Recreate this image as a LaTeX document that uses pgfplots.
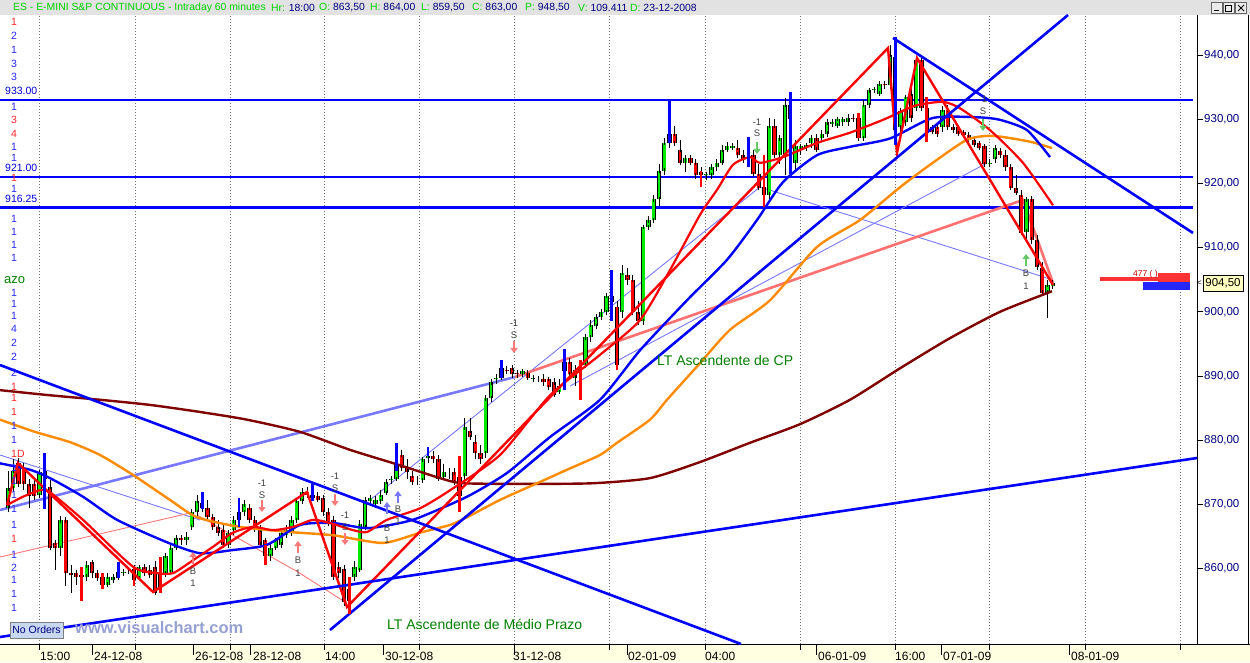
\documentclass[border=0pt]{standalone}
\usepackage{pgfplots}
\pgfplotsset{compat=1.18}
\usepackage{pgfplotstable}
\usepackage{fontspec}
\setmainfont{Liberation Sans}
\usetikzlibrary{arrows.meta}

\definecolor{vcblue}{RGB}{0,0,255}
\definecolor{vcred}{RGB}{255,0,0}
\definecolor{vcgreen}{RGB}{0,235,0}
\definecolor{brownma}{RGB}{128,0,0}
\definecolor{orangema}{RGB}{255,140,0}
\definecolor{lav}{RGB}{120,120,255}
\definecolor{salmon}{RGB}{255,112,112}
\definecolor{thinpink}{RGB}{255,120,120}
\definecolor{navy}{RGB}{0,0,128}
\definecolor{txtgreen}{RGB}{0,128,0}
\definecolor{hdrgreen}{RGB}{0,210,0}
\definecolor{strip}{RGB}{255,255,225}
\definecolor{hdrgray}{RGB}{226,226,226}
\definecolor{lblue}{RGB}{40,40,255}
\definecolor{lred}{RGB}{255,40,40}
\definecolor{arrpink}{RGB}{255,120,120}
\definecolor{arrblue}{RGB}{120,120,255}
\definecolor{arrgreen}{RGB}{100,200,100}

\pgfplotsset{nomark/.style={only marks, mark=text, text mark={}, forget plot}}

% 60-minute bars: x = position, open high low close
\pgfplotstableread{
x o h l c
8 869.5 875.25 868.75 872.5
13.25 872.5 877 872 875.25
39.5 871.5 875.25 871 875
44.75 874 876 873.5 875.25
60.5 863.25 868.25 862 867.5
86.75 858.75 861.25 858 860.5
107.75 857.5 859.25 857.25 858.75
113 858.25 859 857.75 858.75
118.25 858.5 859.75 858.25 859.5
123.5 859.25 860 859 859.5
128.75 859.5 859.75 859.25 859.5
139.25 858.5 860.5 858.25 860.25
160.25 857 861.75 856.25 859.25
165.5 859.25 862.5 858.75 862
170.75 859.5 863.75 859.25 863.25
176 863.25 865.25 863 864.75
186.5 864.5 865.75 863.75 865
191.75 866.5 869.25 866 868.75
197 868.75 871.5 868.25 870.5
228.5 863.75 866 863.25 865.5
233.75 866 868.25 865.25 867.5
239 867.5 871 866.75 868.75
244.25 868.75 870.75 868.25 870
270.5 862 864 861.25 863.25
275.75 863.25 864.75 863 864.5
281 863.75 866 863.25 865.5
286.25 865.25 866.75 864.75 866
291.5 865.5 868.25 865.25 867.5
296.75 867.5 871 867.25 870.5
302 870.5 872.5 870 872
349.25 855 858.75 853 856.75
354.5 858.75 861.25 858 860.25
359.75 859.75 867.5 859.5 867
365 866.5 871 866 870.75
370.25 870.5 871.5 869.75 871
375.5 870 871.25 869.5 870.75
380.75 870.5 872.25 870 871.5
386 871.75 874 871.5 873.5
391.25 873.75 874.5 873.25 874
396.5 874 877 873.75 876.25
417.5 873.75 874.5 873 873.75
422.75 873.75 877.25 873.5 877
428 877.25 879 876.5 877.5
443.75 874.25 876.25 873.75 875
449 875 875.75 874 875
464.75 874.5 883.5 873.75 882
485.75 878 887 877.25 886.5
491 886.5 889.5 886 889
496.25 889.5 890.25 888.75 889.75
501.5 889.75 891.75 889.5 891.25
522.5 890.25 891 890 890.75
533 889.5 890 889 889.75
538.25 889.5 890 889 889.5
559.25 887.5 889.5 887.25 888.5
564.5 890.75 892.75 887.75 892.25
575 889.75 891.75 888.5 891
580.25 890.75 892.5 886.25 891.25
585.5 891.75 896.5 891.25 896
590.75 896 898.75 895.25 898
596 897.75 899.5 897.25 899.25
601.25 899.25 900.5 898.75 900
606.5 900 903 899.5 902.5
611.75 901.5 903 901 902.5
622.25 900 907.25 899 906
643.25 898.5 913.5 898 913.25
648.5 913.25 915 912.75 914.25
653.75 914.25 918.25 914 917.5
659 917.5 923 916.5 922
664.25 922 927 921.25 926.25
669.5 926.25 928.75 925.5 927.75
685.25 923.25 924.5 921.75 924
706.25 921.25 921.75 920.5 921.5
711.5 921.25 923 920.75 922.5
716.75 922.5 923.75 922 923.25
722 923.25 926 923 925.25
727.25 925.25 926.5 925 925.75
732.5 925.5 926.25 925.25 925.75
748.25 923.75 925 922.5 924
769.25 918.25 930.25 917.5 929
779.75 924.5 927.5 923 927
785 924.5 933.25 921.25 932.25
795.5 923.25 926.75 921.75 925.75
800.75 925.25 926 924.5 925.75
806 925.5 926.25 925 926
811.25 926.25 927.5 925.5 927
821.75 927 928.25 926.75 927.75
827 927.75 930 927.25 929.5
832.25 929.25 930 928.75 929.5
837.5 929 930.25 928.75 930
842.75 929.5 930.25 929 930
848 929.5 930.75 929 930.25
863.75 927 933 926.75 932.25
869 932.25 934.75 931.75 934.5
874.25 934.5 935 934.25 934.75
879.5 934 936 933.75 935.5
890 935.25 941.5 934.75 940
900.5 928.75 931.75 927.5 931.25
905.75 929.5 933.75 929 933.5
916.25 931.75 939.75 931.25 939.25
942.5 928.75 932 928 931.5
989.75 923 923.75 922.5 923.25
995 923.75 926 923.25 925.5
1026.5 912.5 917.75 911.25 917.5
1047.5 903 905 899 904.25
1052.75 904 905 903.5 904.5
}\up

\pgfplotstableread{
x o h l c
18.5 876.5 877.25 872.75 873.25
23.75 875.75 876.5 872.25 873.25
29 873.25 874 869.5 871.25
34.25 873.25 873.75 870.75 871.25
50 872.75 873.75 863 863.25
55.25 864 864.5 859.75 863.25
65.75 867.5 868 857.25 859.25
71 859.25 860.5 856.25 859
76.25 859.25 859.75 857.5 858.75
81.5 859 860 858 858.75
92 861 861.25 858.5 859.25
97.25 859.25 859.75 858 858.5
102.5 858.75 859.25 856.75 857.5
134 860 860.5 857.25 858.25
144.5 860.25 860.75 859 859.25
149.75 859.75 860.5 858.5 859
155 860.25 861.25 856 856.25
181.25 864.75 865.25 863.75 864.5
202.25 870.25 872 868.75 869.5
207.5 869.5 870.75 867.5 868
212.75 868 868.5 866 866.5
218 866.5 867.5 865.25 865.5
223.25 866 866.75 863.25 863.75
249.5 869.5 870 867.25 867.5
254.75 867.5 868.25 865.75 866
260 866 866.75 863.25 863.75
265.25 864.5 864.75 861.75 862
307.25 872 872.75 871 871.5
312.5 871.5 873.25 870.5 871
317.75 871.25 872 870.5 870.75
323 871 871.5 868.25 868.75
328.25 868.75 869.5 866.75 867
333.5 867.5 868.25 858.25 858.75
338.75 860.25 861 858.5 859.25
344 860 860.5 854.25 854.75
401.75 877.75 878.5 875.25 875.75
407 875.75 877 874 875
412.25 874.5 875.25 873 873.5
433.25 877.5 878.25 876.5 877
438.5 877 877.75 873.75 874
454.25 875 875.75 873 873.5
459.5 874.25 875.25 870.75 871.25
470 881.5 883.5 880 880.5
475.25 879.75 880.75 877 878
480.5 878 879.25 876.25 877
506.75 891 891.5 890.25 890.75
512 891.25 891.75 889.75 890.25
517.25 890.5 891 889.75 890.25
527.75 890.5 891 889.5 889.75
543.5 889.5 890.25 888.5 889
548.75 889.5 889.75 887.75 888.25
554 889 889.75 886.75 887
569.75 892.25 892.75 889.75 890.25
617 900.75 901.75 891.25 891.75
627.5 905.75 906.75 904.25 905
632.75 905 905.75 899.5 900
638 900 901.75 898 898.5
674.75 927.75 929 925.75 926.25
680 925.25 926.75 923 923.25
690.5 924 924.5 923 923.25
695.75 923.25 923.75 920.75 921.25
701 921.75 922.5 920.5 921.25
737.75 925.5 926.75 924 924.5
743 924.5 925.25 923.25 923.75
753.5 924.5 925.25 921.25 921.5
758.75 921.5 923 919 919.25
764 919.5 920.5 916.5 918.25
774.5 929 930 924 924.5
790.25 932.25 933 929.5 930
816.5 927 927.75 925 925.25
853.25 930.25 930.75 929.5 930
858.5 930.25 931 926.75 927
884.75 935.5 936 934.75 935.25
895.25 939.75 942.75 926.75 928.25
911 934 934.75 929.5 930.25
921.5 939.25 939.75 931.25 931.75
926.75 931.75 933 927.5 928
932 928.75 929 927.75 928
937.25 928.75 929.25 927.25 927.75
947.75 931.5 932.25 928.25 928.75
953 928.75 929.25 928 928.25
958.25 928.75 929 927.5 927.75
963.5 928 928.25 927 927.5
968.75 927.5 928 926.5 926.75
974 926.75 927 925.75 926
979.25 926.25 926.5 925.25 925.5
984.5 925.75 926 922.5 923
1000.25 925 925.5 924 924.5
1005.5 924.5 925.25 922 922.5
1010.75 922.5 923 919 919.25
1016 919.25 921.25 918.25 918.5
1021.25 918.25 919 912 912.25
1031.75 917.5 918 910.5 911.25
1037 911.25 912 906.5 907
1042.25 906.75 907.75 902.5 903
}\dn

% signal bars
\pgfplotstableread{
x lo hi
44.75 869.25 878
118.25 858.5 861
202.25 869.25 872
239 866.5 871
312.5 870.5 873.25
396.5 875.25 879.5
428 877.5 879
501.5 889.75 892.5
564.5 887.75 894.25
611.75 898.5 906.5
669.5 926.25 933
748.25 922.5 927.25
790.25 921.5 934.25
895.25 926 942.75
}\sigb
\pgfplotstableread{
x lo hi
81.5 855 860.25
102.5 856.75 859.25
134 857.25 860.25
160.25 856.25 861.75
265.25 860.5 863.75
349.25 853 858.75
459.5 868.75 877.5
580.25 886.25 892.5
617 891 900.75
701 919.5 922
764 916.25 924.5
858.5 927 931
926.75 926.5 933.5
}\sigr

\begin{document}
\begin{tikzpicture}[font=\fontsize{10}{12}\selectfont]
\begin{scope}[x=1pt,y=-1pt,yshift=644pt]
  \fill[white] (0,0) rectangle (1250,662);
  \fill[hdrgray] (0,0) rectangle (1250,15);
  \fill[strip] (0,644) rectangle (1250,662);
\end{scope}

\begin{axis}[
  at={(0,0)}, anchor=south west,
  scale only axis, width=1197pt, height=629pt,
  xmin=0, xmax=1197, ymin=848.26, ymax=946.23,
  axis x line*=bottom, axis y line*=right,
  axis line style={black, line width=0.8pt},
  tick align=outside, major tick length=6pt,
  tick style={black, line width=0.8pt},
  xtick={39,135,230,324,419,514,609,705,800,895,989,1085,1180},
  xticklabels={},
  xmajorgrids,
  grid style={black!55, line width=0.6pt, dash pattern=on 0.8pt off 2.2pt},
  extra x ticks={92,193,250,383,514,627,816,941,1069},
  extra x tick labels={},
  extra x tick style={grid=none, major tick length=11pt},
  ytick={860,870,...,940}, yticklabels={},
]
% horizontal levels
\addplot[vcblue, line width=2.6pt] coordinates {(0,933)(1193,933)};
\addplot[vcblue, line width=1.2pt] coordinates {(0,921)(1193,921)};
\addplot[vcblue, line width=2.6pt] coordinates {(0,916.25)(1193,916.25)};
% thin lines
\addplot[lav, line width=0.9pt] coordinates {(0,877.7)(200,867.57)};
\addplot[lav, line width=0.9pt] coordinates {(370,870.69)(760,919.44)(1053,904.96)};
\addplot[lav, line width=0.9pt] coordinates {(570,888.44)(987,923.18)};
\addplot[thinpink, line width=0.9pt] coordinates {(0,861.81)(190,868.66)};
\addplot[thinpink, line width=0.9pt] coordinates {(197,868.35)(298,859.47)(345,854.8)};
% thick pastel lines
\addplot[lav, line width=2.6pt] coordinates {(0,869.13)(515,889.85)};
\addplot[salmon, line width=2.6pt] coordinates {(515,889.85)(1023,917.42)(1053,904.49)};

% candles: wicks
\addplot[nomark, error bars/.cd, y dir=plus, y explicit,
  error mark=none, error bar style={black, line width=0.9pt}]
  table[x=x, y=l, y error plus expr=\thisrow{h}-\thisrow{l}] {\up};
\addplot[nomark, error bars/.cd, y dir=plus, y explicit,
  error mark=none, error bar style={black, line width=0.9pt}]
  table[x=x, y=l, y error plus expr=\thisrow{h}-\thisrow{l}] {\dn};
% bodies
\addplot[nomark, error bars/.cd, y dir=plus, y explicit,
  error mark=none, error bar style={black, line width=4.4pt}]
  table[x=x, y=o, y error plus expr=\thisrow{c}-\thisrow{o}] {\up};
\addplot[nomark, error bars/.cd, y dir=both, y explicit,
  error mark=-, error mark options={black, line width=0.8pt, mark size=2.2pt},
  error bar style={vcgreen, line width=2.6pt}]
  table[x=x, y=o, y error plus expr=\thisrow{c}-\thisrow{o}, y error minus expr=0] {\up};
\addplot[nomark, error bars/.cd, y dir=plus, y explicit,
  error mark=none, error bar style={black, line width=4.4pt}]
  table[x=x, y=c, y error plus expr=\thisrow{o}-\thisrow{c}] {\dn};
\addplot[nomark, error bars/.cd, y dir=both, y explicit,
  error mark=-, error mark options={black, line width=0.8pt, mark size=2.2pt},
  error bar style={vcred, line width=2.6pt}]
  table[x=x, y=c, y error plus expr=\thisrow{o}-\thisrow{c}, y error minus expr=0] {\dn};

% moving averages
\addplot[brownma, line width=2.4pt, smooth, tension=0.4] coordinates {
(0,887.8)(50,887.0)(100,886.3)(150,885.5)(200,884.4)(247,883.2)(300,881.3)(350,878.5)
(400,876.1)(440,874.1)(463,873.3)(530,873.2)(593,873.3)(650,874.1)(700,876.6)(750,879.6)
(800,882.5)(850,886.3)(900,891.2)(950,895.9)(1000,900.0)(1052,903.2)};
\addplot[orangema, line width=2.4pt, smooth, tension=0.4] coordinates {
(0,883.2)(35,881.3)(70,879.7)(100,877.7)(133,874.6)(170,870.7)(197,868.0)(240,866.5)
(290,865.7)(333,865.2)(383,864.0)(420,865.6)(450,866.8)(467,868.0)(500,870.7)(540,873.5)
(567,875.4)(600,877.7)(617,879.6)(650,883.2)(667,886.3)(700,892.0)(730,897.2)(770,901.8)
(817,910.1)(860,914.3)(900,919.4)(930,922.9)(967,926.8)(993,927.4)(1030,926.5)(1052,925.5)};
\addplot[vcblue, line width=2.4pt, smooth, tension=0.4] coordinates {
(0,876.4)(30,875.4)(50,874.1)(83,871.2)(117,867.6)(167,864.1)(200,862.4)(233,862.9)
(267,863.7)(300,866.8)(333,867.1)(367,866.3)(400,867.1)(420,868.0)(467,871.2)(507,874.9)
(550,880.5)(600,886.3)(640,894.0)(687,901.8)(727,908.1)(757,914.3)(783,920.2)(817,924.4)
(850,925.7)(890,927.0)(933,930.2)(977,930.3)(1000,929.9)(1027,928.3)(1050,924.1)};
\addplot[vcred, line width=2.2pt, smooth, tension=0.4] coordinates {
(7,869.9)(23,871.2)(40,872.2)(50,871.9)(83,867.6)(133,860.3)(157,859.3)(173,859.3)
(193,861.3)(213,863.4)(233,865.6)(253,866.5)(273,866.0)(293,866.5)(313,867.6)(330,867.1)
(353,866.0)(367,865.7)(387,867.6)(420,869.4)(450,872.2)(500,877.7)(550,887.0)(600,893.3)
(640,898.7)(670,906.5)(700,915.1)(717,919.0)(733,922.9)(750,924.1)(760,923.2)(783,924.1)
(817,926.3)(850,927.9)(883,929.9)(900,931.1)(917,932.2)(943,932.7)(960,931.7)(990,928.3)
(1023,923.2)(1053,916.6)};
% zigzag
\addplot[vcred, line width=2.4pt] coordinates {
(7,869.91)(18,876.45)(153,856.36)(307,871.93)(347,854.02)(888,941.09)(897,924.74)(917,939.53)(1053,904.18)};

% trend lines
\addplot[vcblue, line width=2.6pt] coordinates {(0,891.71)(741,848.26)};
\addplot[vcblue, line width=2.6pt] coordinates {(0,849.35)(1197,877.23)};
\addplot[vcblue, line width=2.6pt] coordinates {(330,850.44)(1068,946.23)};
\addplot[vcblue, line width=2.6pt] coordinates {(893,942.65)(1193,912.28)};

% signal bars
\addplot[nomark, error bars/.cd, y dir=plus, y explicit,
  error mark=none, error bar style={vcblue, line width=2.6pt}]
  table[x=x, y=lo, y error plus expr=\thisrow{hi}-\thisrow{lo}] {\sigb};
\addplot[nomark, error bars/.cd, y dir=plus, y explicit,
  error mark=none, error bar style={vcred, line width=2.6pt}]
  table[x=x, y=lo, y error plus expr=\thisrow{hi}-\thisrow{lo}] {\sigr};
\end{axis}

\begin{scope}[x=1pt,y=-1pt,yshift=644pt]
  % frame pieces
  \draw[black, line width=0.8pt] (1197,644) -- (1250,644);
  \draw[black, line width=0.8pt] (1248,15) -- (1248,644);
  % header
  \node[anchor=west, inner sep=0pt, font=\fontsize{10.4}{12}\selectfont, text=hdrgreen] at (13,7.5) {ES - E-MINI S\&P CONTINUOUS - Intraday 60 minutes};
  \foreach \xx/\la/\va in {271/Hr:/18:00, 319/O:/{863,50}, 370/H:/{864,00}, 421/L:/{859,50}, 472/C:/{863,00}, 525/P:/{948,50}, 578/V:/109.411, 630/D:/23-12-2008}
    \node[anchor=west, inner sep=0pt, font=\fontsize{10.4}{12}\selectfont] at (\xx,7.5) {\textcolor{hdrgreen}{\la} \textcolor{navy}{\va}};
  \foreach \bx in {1211,1223,1235}
    \draw[black!60, fill=hdrgray!70] (\bx,2.5) rectangle (\bx+11,13);
  \draw[black, line width=1pt] (1213.5,10.5) -- (1218.5,10.5);
  \draw[black, line width=0.8pt] (1225.5,5) rectangle (1231.5,11);
  \draw[black, line width=1pt] (1238,5) -- (1244,11) (1238,11) -- (1244,5);
  % y labels
  \foreach \yy/\tt in {55/{940,00},119.2/{930,00},183.4/{920,00},247.6/{910,00},311.8/{900,00},376/{890,00},440.2/{880,00},504.4/{870,00},568.6/{860,00}}
    \node[anchor=west, inner sep=0pt, text=navy, font=\fontsize{11.5}{12}\selectfont] at (1204,\yy) {\tt};
  % x labels
  \foreach \xx/\tt in {40/15:00,94/24-12-08,195/26-12-08,253/28-12-08,325/14:00,385/30-12-08,513/31-12-08,628/02-01-09,705/04:00,818/06-01-09,895/16:00,943/07-01-09,1071/08-01-09}
    \node[anchor=base west, inner sep=0pt, font=\fontsize{12}{12}\selectfont] at (\xx,660) {\tt};
  % left column numbers
  \foreach \yy/\tt/\cc in {22/1/lred,36/2/lblue,50/1/lblue,64/3/lblue,77/3/lblue,107/1/lblue,120/3/lred,134/4/lred,147/1/lblue,158/1/lblue,178/1/lred,189/1/lblue,219/1/lblue,232/1/lblue,245/1/lblue,258/1/lblue,293/1/lblue,304/1/lblue,316/1/lblue,329/4/lblue,343/2/lblue,357/2/lblue,373/2/lblue,387/1/lred,398/1/lred,412/1/lred,426/1/lblue,440/1/lblue,454/1D/lred,468/1/lblue,481/1/lblue,495/1/lblue,509/1/lblue,525/1/lblue,539/1/lred,555/1/lblue,568/2/lblue,580/1/lblue,594/1/lblue,608/1/lblue}
    \node[anchor=west, inner sep=0pt, text=\cc, font=\fontsize{10.5}{12}\selectfont] at (11,\yy) {\tt};
  \foreach \yy/\tt in {91/933.00,168/921.00,199/916.25}
    \node[anchor=west, inner sep=0pt, text=vcblue!85!black, font=\fontsize{10.5}{12}\selectfont] at (5,\yy) {\tt};
  \node[anchor=west, inner sep=0pt, text=txtgreen, font=\fontsize{13}{14}\selectfont] at (4,280) {azo};
  % trade arrows and labels
  \tikzset{arr/.style={line width=2.4pt, -{Triangle[width=7pt,length=5pt]}}}
  \foreach \xx/\ya/\yb in {262/500/512, 335/494/506, 345/533/545, 514/341/353}
    \draw[arr, arrpink] (\xx,\ya) -- (\xx,\yb);
  \foreach \xx/\ya/\yb in {298/553/541, 193/564/552}
    \draw[arr, arrpink] (\xx,\ya) -- (\xx,\yb);
  \foreach \xx/\ya/\yb in {387/514/502, 398/503/491}
    \draw[arr, arrblue] (\xx,\ya) -- (\xx,\yb);
  \draw[arr, arrgreen] (757,142) -- (757,154);
  \draw[arr, arrgreen] (983,119) -- (983,131);
  \draw[arr, arrgreen] (1026,266) -- (1026,254);
  \foreach \xx/\yy/\tt in {262/483/-1, 262/495/S, 335/476/-1, 335/488/S, 345/515/-1, 345/527/S, 514/323/-1, 514/335/S, 757/122/-1, 757/133/S, 983/99/-1, 983/111/S, 298/560/B, 298/573/1, 193/571/B, 193/583/1, 387/528/B, 387/540/1, 398/509/B, 398/521/1, 1026/273/B, 1026/286/1}
    \node[inner sep=0pt, text=black!75, font=\fontsize{9.5}{10}\selectfont] at (\xx,\yy) {\tt};
  % annotations
  \node[anchor=west, inner sep=0pt, text=txtgreen, font=\fontsize{14}{16}\selectfont] at (387,624) {LT Ascendente de Médio Prazo};
  \node[anchor=west, inner sep=0pt, text=txtgreen, font=\fontsize{14}{16}\selectfont] at (657,360) {LT Ascendente de CP};
  \node[anchor=west, inner sep=0pt, text={rgb,255:red,150;green,160;blue,210}, font=\bfseries\fontsize{16.5}{18}\selectfont] at (75,628) {www.visualchart.com};
  \draw[black!50, fill={rgb,255:red,200;green,216;blue,240}] (10,622) rectangle (63,638);
  \node[inner sep=0pt, text=navy, font=\fontsize{10.5}{12}\selectfont] at (36.5,630) {No Orders};
  % right side order bars and last price
  \fill[vcred!80] (1100,277.5) rectangle (1190,281);
  \fill[vcred!80] (1158,273) rectangle (1190,282);
  \fill[vcblue!85] (1143,282) rectangle (1190,290);
  \node[anchor=west, inner sep=0pt, text=vcred!80!black, font=\fontsize{8.5}{9}\selectfont] at (1133,274.5) {477 ( )};
  \draw[black, fill={rgb,255:red,255;green,255;blue,192}] (1203,275) rectangle (1243,291);
  \node[inner sep=0pt, text=black, font=\fontsize{11.5}{12}\selectfont] at (1223,283) {904,50};
  \node[inner sep=0pt, text=black, font=\fontsize{8}{8}\selectfont] at (1199.5,283) {<};
\end{scope}
\pgfresetboundingbox
\path[x=1pt,y=-1pt,yshift=644pt] (0,0) rectangle (1250,662);
\end{tikzpicture}
\end{document}
